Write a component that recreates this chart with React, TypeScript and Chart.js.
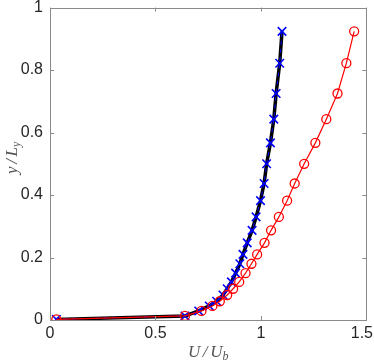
import React, { useEffect, useRef } from "react";
import { Chart, registerables } from "chart.js";
Chart.register(...registerables);

const yValues = [0.002, 0.013, 0.029, 0.045, 0.06, 0.08, 0.1, 0.122, 0.15, 0.18, 0.21, 0.247, 0.287, 0.33, 0.382, 0.437, 0.5, 0.567, 0.643, 0.725, 0.822, 0.924];
const blueX = [0.03, 0.64, 0.705, 0.755, 0.79, 0.82, 0.84, 0.86, 0.88, 0.9, 0.915, 0.935, 0.958, 0.977, 0.998, 1.015, 1.027, 1.045, 1.061, 1.072, 1.089, 1.1];
const redX = [0.03, 0.64, 0.718, 0.77, 0.805, 0.84, 0.868, 0.897, 0.927, 0.955, 0.982, 1.017, 1.048, 1.085, 1.124, 1.16, 1.205, 1.258, 1.31, 1.363, 1.405, 1.442];
const xTicks = [0, 0.5, 1, 1.5];
const yTicks = [0, 0.2, 0.4, 0.6, 0.8, 1];
const xTickLabels = ["0", "0.5", "1", "1.5"];
const yTickLabels = ["0", "0.2", "0.4", "0.6", "0.8", "1"];

const AXIS = "#8a8a8a";
const TEXT = "#262626";

const framePlugin = {
  id: "frame",
  afterDraw(chart: any) {
    const { ctx, chartArea: a, scales, width } = chart;
    ctx.save();
    ctx.strokeStyle = AXIS;
    ctx.lineWidth = 1;
    ctx.strokeRect(Math.round(a.left) + 0.5, Math.round(a.top) + 0.5, Math.round(a.right - a.left), Math.round(a.bottom - a.top));
    const tl = 4;
    ctx.beginPath();
    xTicks.forEach((v) => {
      const px = Math.round(scales.x.getPixelForValue(v)) + 0.5;
      ctx.moveTo(px, a.bottom); ctx.lineTo(px, a.bottom - tl);
      ctx.moveTo(px, a.top); ctx.lineTo(px, a.top + tl);
    });
    yTicks.forEach((v) => {
      const py = Math.round(scales.y.getPixelForValue(v)) + 0.5;
      ctx.moveTo(a.left, py); ctx.lineTo(a.left + tl, py);
      ctx.moveTo(a.right, py); ctx.lineTo(a.right - tl, py);
    });
    ctx.stroke();

    // tick labels
    ctx.fillStyle = TEXT;
    ctx.font = "16px 'Liberation Sans'";
    ctx.textBaseline = "middle";
    ctx.textAlign = "right";
    yTicks.forEach((v, i) => {
      ctx.fillText(yTickLabels[i], a.left - 7, scales.y.getPixelForValue(v));
    });
    ctx.textAlign = "center";
    xTicks.forEach((v, i) => {
      const w = ctx.measureText(xTickLabels[i]).width;
      let cx = scales.x.getPixelForValue(v);
      if (cx + w / 2 > width - 1) cx = width - 1 - w / 2;
      ctx.fillText(xTickLabels[i], cx, a.bottom + 14);
    });

    // axis titles
    ctx.fillStyle = "#555";
    ctx.textBaseline = "alphabetic";
    ctx.textAlign = "left";
    const main = "italic 17px 'Liberation Serif'";
    const sub = "italic 12px 'Liberation Serif'";
    const drawTitle = (a1: string, a2: string, s: string, x: number, y: number) => {
      ctx.font = main;
      const w1 = ctx.measureText(a1).width;
      const wsl = ctx.measureText(" / ").width * 0.75;
      const w2 = ctx.measureText(a2).width;
      ctx.font = sub;
      const w3 = ctx.measureText(s).width;
      const sx = x - (w1 + wsl + w2 + w3) / 2;
      ctx.font = main;
      ctx.fillText(a1, sx, y);
      ctx.fillText("/", sx + w1 + wsl / 2 - ctx.measureText("/").width / 2, y);
      ctx.fillText(a2, sx + w1 + wsl, y);
      ctx.font = sub;
      ctx.fillText(s, sx + w1 + wsl + w2, y + 3);
    };
    drawTitle("U", "U", "b", (a.left + a.right) / 2, 357);
    ctx.translate(17, (a.top + a.bottom) / 2 - 6);
    ctx.rotate(-Math.PI / 2);
    drawTitle("y", "L", "y", 0, 0);
    ctx.restore();
  },
};

export default function App() {
  const ref = useRef<HTMLCanvasElement>(null);
  useEffect(() => {
    document.body.style.margin = "0";
    const pts = (xs: number[]) => xs.map((x, i) => ({ x, y: yValues[i] }));
    const chart = new Chart(ref.current!, {
      type: "line",
      data: {
        datasets: [
          {
            data: pts(redX),
            borderColor: "#ff0000",
            borderWidth: 1.2,
            pointStyle: "circle",
            pointRadius: 4.5,
            pointBorderWidth: 1.3,
            pointBorderColor: "#ff0000",
            pointBackgroundColor: "rgba(0,0,0,0)",
            order: 0,
          },
          {
            data: pts(blueX),
            borderColor: "#0000ff",
            borderWidth: 1,
            borderDash: [4, 4],
            pointStyle: "crossRot",
            pointRadius: 6,
            pointBorderWidth: 1.6,
            pointBorderColor: "#0000ff",
            order: 1,
          },
          {
            data: pts(blueX),
            borderColor: "#000000",
            borderWidth: 3.5,
            pointRadius: 0,
            order: 2,
          },
        ],
      },
      options: {
        animation: false,
        responsive: false,
        parsing: false as any,
        layout: { padding: { left: 0, right: 7, top: 6, bottom: 0 } },
        plugins: { legend: { display: false }, tooltip: { enabled: false } },
        scales: {
          x: {
            type: "linear",
            min: 0,
            max: 1.5,
            grid: { display: false },
            border: { display: false },
            afterFit: (s: any) => { s.height = 43; s.paddingLeft = 0; s.paddingRight = 0; },
            afterBuildTicks: (s: any) => { s.ticks = xTicks.map((v) => ({ value: v })); },
            ticks: { display: false },
          },
          y: {
            type: "linear",
            min: 0,
            max: 1,
            grid: { display: false },
            border: { display: false },
            afterFit: (s: any) => { s.width = 50; s.paddingTop = 0; s.paddingBottom = 0; },
            afterBuildTicks: (s: any) => { s.ticks = yTicks.map((v) => ({ value: v })); },
            ticks: { display: false },
          },
        },
      },
      plugins: [framePlugin],
    });
    return () => chart.destroy();
  }, []);
  return (
    <div style={{ position: "absolute", left: 0, top: 0, width: 374, height: 363 }}>
      <canvas ref={ref} width={374} height={363} style={{ width: 374, height: 363 }} />
    </div>
  );
}
